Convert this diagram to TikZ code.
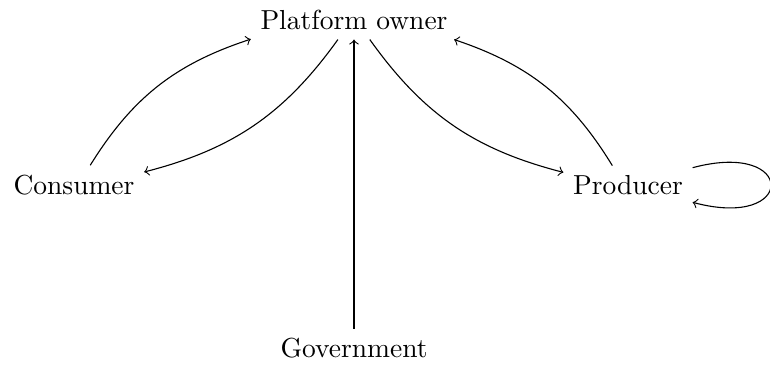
\documentclass[tikz,border=0pt]{standalone}
\begin{document}
\begin{tikzpicture}[x=0.3636pt,y=0.3636pt, conn/.style={->}]
\useasboundingbox (0,0) rectangle (770,369);
\node (plat) at (354,349) {Platform owner};
\node (cons) at (74,184) {Consumer};
\node (prod) at (628,184) {Producer};
\node (gov) at (354,20.5) {Government};
\draw[conn] (cons) to[bend left=20] (plat);
\draw[conn] (plat) to[bend left=20] (cons);
\draw[conn] (plat) to[bend right=20] (prod);
\draw[conn] (prod) to[bend right=20] (plat);
\draw[conn] (gov) -- (plat);
\draw[conn] (prod) to[loop right] (prod);
\end{tikzpicture}
\end{document}
